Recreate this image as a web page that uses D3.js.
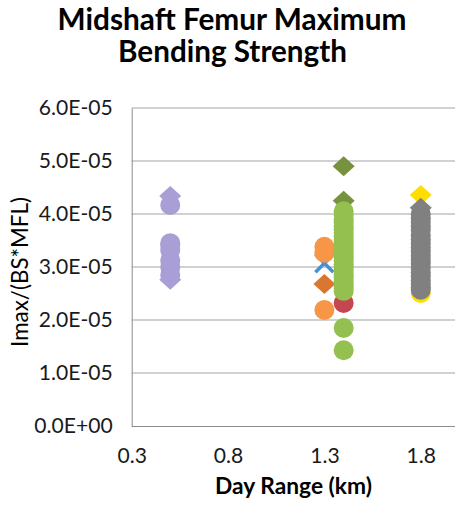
<!DOCTYPE html>
<html>
<head>
<meta charset="utf-8">
<script src="https://cdn.jsdelivr.net/npm/d3@7"></script>
<style>
  body { margin: 0; background: #fff; }
  text { font-family: Lato, "Open Sans", "Liberation Sans", sans-serif; }
</style>
</head>
<body>
<svg id="chart" width="455" height="508"></svg>
<script>
// ---- data -------------------------------------------------------------
const titleLines = ["Midshaft Femur Maximum", "Bending Strength"];
const xAxisTitle = "Day Range (km)";
const yAxisTitle = "Imax/(BS*MFL)";
const xTickValues = [0.3, 0.8, 1.3, 1.8];
const yTickValues = [0, 1e-5, 2e-5, 3e-5, 4e-5, 5e-5, 6e-5];

// [day range (km), Imax/(BS*MFL)]
const purpleCircles = [[0.5, 4.17e-5], [0.5, 3.45e-5], [0.5, 3.40e-5], [0.5, 3.32e-5],
                       [0.5, 3.12e-5], [0.5, 3.00e-5], [0.5, 2.85e-5]];
const purpleDiamonds = [[0.5, 4.34e-5], [0.5, 2.76e-5]];
const redCircles = [[1.4, 2.32e-5]];
const blueCrosses = [[1.3, 3.07e-5]];
const orangeCircles = [[1.3, 3.38e-5], [1.3, 3.27e-5], [1.3, 2.19e-5]];
const orangeDiamonds = [[1.3, 2.68e-5]];
const oliveDiamonds = [[1.4, 4.90e-5], [1.4, 4.25e-5]];
const greenCircles = [[1.4, 4.05e-5], [1.4, 3.98e-5], [1.4, 3.90e-5], [1.4, 3.84e-5], [1.4, 3.77e-5],
                      [1.4, 3.71e-5], [1.4, 3.64e-5], [1.4, 3.58e-5], [1.4, 3.51e-5], [1.4, 3.45e-5],
                      [1.4, 3.38e-5], [1.4, 3.32e-5], [1.4, 3.25e-5], [1.4, 3.18e-5], [1.4, 3.12e-5],
                      [1.4, 3.05e-5], [1.4, 2.99e-5], [1.4, 2.93e-5], [1.4, 2.86e-5], [1.4, 2.80e-5],
                      [1.4, 2.74e-5], [1.4, 2.67e-5], [1.4, 2.61e-5], [1.4, 2.55e-5],
                      [1.4, 1.85e-5], [1.4, 1.43e-5]];
const yellowDiamonds = [[1.8, 4.36e-5]];
const yellowCircles = [[1.8, 2.51e-5]];
const grayDiamonds = [[1.8, 4.12e-5]];
const grayCircles = [[1.8, 4.00e-5], [1.8, 3.92e-5], [1.8, 3.85e-5], [1.8, 3.77e-5], [1.8, 3.70e-5],
                     [1.8, 3.60e-5], [1.8, 3.52e-5], [1.8, 3.44e-5], [1.8, 3.37e-5], [1.8, 3.30e-5],
                     [1.8, 3.21e-5], [1.8, 3.13e-5], [1.8, 3.06e-5], [1.8, 2.98e-5], [1.8, 2.90e-5],
                     [1.8, 2.82e-5], [1.8, 2.75e-5], [1.8, 2.68e-5], [1.8, 2.61e-5], [1.8, 2.57e-5]];

// drawing order: later series sit on top
const series = [
  { data: purpleCircles,  shape: "circle",  color: "#a99fd6" },
  { data: purpleDiamonds, shape: "diamond", color: "#a99fd6" },
  { data: redCircles,     shape: "circle",  color: "#c4474f" },
  { data: blueCrosses,    shape: "cross",   color: "#4a8fd3" },
  { data: orangeCircles,  shape: "circle",  color: "#f79646" },
  { data: orangeDiamonds, shape: "diamond", color: "#d8772f" },
  { data: oliveDiamonds,  shape: "diamond", color: "#76923c" },
  { data: greenCircles,   shape: "circle",  color: "#93c04f" },
  { data: yellowDiamonds, shape: "diamond", color: "#ffdd00" },
  { data: yellowCircles,  shape: "circle",  color: "#ffdd00" },
  { data: grayDiamonds,   shape: "diamond", color: "#808080" },
  { data: grayCircles,    shape: "circle",  color: "#808080" }
];

// ---- layout -----------------------------------------------------------
const W = 455, H = 508;
const plot = { left: 131.7, top: 108, bottom: 426 };
const pxPerKm = 192.7;

const x = d3.scaleLinear().domain([0.3, 2.3]).range([plot.left, plot.left + 2 * pxPerKm]);
const y = d3.scaleLinear().domain([0, 6e-5]).range([plot.bottom, plot.top]);

const svg = d3.select("#chart");

// Excel-style scientific notation, e.g. 6.0E-05
function sci(v) {
  const [m, e] = v.toExponential(1).split("e");
  const n = +e;
  return m + "E" + (n < 0 ? "-" : "+") + String(Math.abs(n)).padStart(2, "0");
}

// scale a text's font size so that it spans the given width
function fitWidth(sel, target) {
  const w = sel.node().getComputedTextLength();
  const fs = parseFloat(sel.attr("font-size"));
  sel.attr("font-size", fs * target / w);
  return fs * target / w;
}

// ---- gridlines --------------------------------------------------------
svg.append("g")
  .selectAll("line")
  .data(yTickValues.filter(d => d > 0))
  .join("line")
  .attr("x1", plot.left).attr("x2", W)
  .attr("y1", d => y(d)).attr("y2", d => y(d))
  .attr("stroke", "#a3a3a3").attr("stroke-width", 1);

// ---- axes -------------------------------------------------------------
const yAxis = d3.axisLeft(y).tickValues(yTickValues).tickFormat(sci).tickSize(0).tickPadding(19);
const gy = svg.append("g").attr("transform", `translate(${plot.left},0)`).call(yAxis);
gy.select(".domain").attr("stroke", "#8c8c8c");
gy.selectAll("text").attr("font-size", 19).attr("fill", "#1a1a1a")
  .style("font-family", "Lato, 'Open Sans', sans-serif");

const xAxis = d3.axisBottom(x).tickValues(xTickValues).tickFormat(d3.format(".1f")).tickSize(0).tickPadding(22);
const gx = svg.append("g").attr("transform", `translate(0,${plot.bottom})`).call(xAxis);
gx.select(".domain").attr("stroke", "#8c8c8c").attr("d", `M${plot.left},0.5H${W}`);
gx.selectAll("text").attr("font-size", 19).attr("fill", "#1a1a1a")
  .style("font-family", "Lato, 'Open Sans', sans-serif");

// tick label sizes fitted to "6.0E-05" ≈ 74px wide
{
  const probe = gy.selectAll("text").filter(d => d === 6e-5);
  const fs = fitWidth(probe, 74);
  gy.selectAll("text").attr("font-size", fs);
  gx.selectAll("text").attr("font-size", fs);
}

// ---- markers ----------------------------------------------------------
const R = 10;          // circle radius
const DW = 11, DH = 10; // diamond half-width / half-height
const XS = 9;          // cross half-size

const markers = svg.append("g");
series.forEach(s => {
  const g = markers.append("g");
  if (s.shape === "circle") {
    g.selectAll("circle").data(s.data).join("circle")
      .attr("cx", d => x(d[0])).attr("cy", d => y(d[1])).attr("r", R)
      .attr("fill", s.color);
  } else if (s.shape === "diamond") {
    g.selectAll("path").data(s.data).join("path")
      .attr("d", d => {
        const cx = x(d[0]), cy = y(d[1]);
        return `M${cx},${cy - DH}L${cx + DW},${cy}L${cx},${cy + DH}L${cx - DW},${cy}Z`;
      })
      .attr("fill", s.color);
  } else if (s.shape === "cross") {
    g.selectAll("path").data(s.data).join("path")
      .attr("d", d => {
        const cx = x(d[0]), cy = y(d[1]);
        return `M${cx - XS},${cy - XS}L${cx + XS},${cy + XS}M${cx + XS},${cy - XS}L${cx - XS},${cy + XS}`;
      })
      .attr("stroke", s.color).attr("stroke-width", 3.5).attr("fill", "none");
  }
});

// ---- titles -----------------------------------------------------------
const t1 = svg.append("text").text(titleLines[0])
  .attr("x", 232).attr("y", 30).attr("text-anchor", "middle")
  .attr("font-size", 26).attr("font-weight", "bold").attr("fill", "#000");
fitWidth(t1, 349);
const t2 = svg.append("text").text(titleLines[1])
  .attr("x", 232.5).attr("y", 62).attr("text-anchor", "middle")
  .attr("font-size", 26).attr("font-weight", "bold").attr("fill", "#000");
fitWidth(t2, 229);

const xt = svg.append("text").text(xAxisTitle)
  .attr("x", 293.5).attr("y", 494).attr("text-anchor", "middle")
  .attr("font-size", 18).attr("font-weight", "bold").attr("fill", "#000");
fitWidth(xt, 157);

const yt = svg.append("text").text(yAxisTitle)
  .attr("transform", "translate(28,272) rotate(-90)").attr("text-anchor", "middle")
  .attr("font-size", 18).attr("fill", "#000");
fitWidth(yt, 150);
</script>
</body>
</html>
